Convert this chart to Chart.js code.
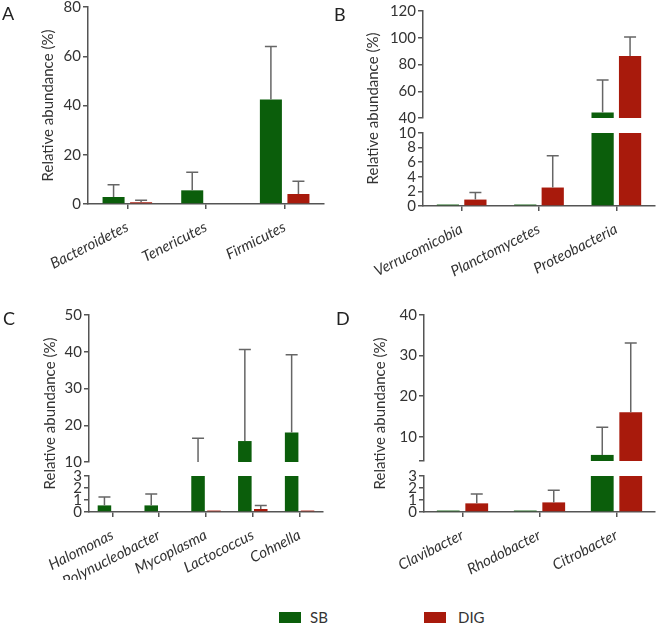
<!DOCTYPE html>
<html>
<head>
<meta charset="utf-8">
<script src="https://cdn.jsdelivr.net/npm/chart.js@4.4.0/dist/chart.umd.min.js"></script>
<style>
  body { margin: 0; background: #fff; font-family: Lato, sans-serif; }
  #wrap { position: relative; width: 659px; height: 625px; overflow: hidden; }
  canvas { position: absolute; }
  .letter { position: absolute; font-size: 18px; line-height: 18px; color: #222; }
  .key { position: absolute; width: 22px; height: 11px; }
  .keytext { position: absolute; font-size: 15px; line-height: 15px; color: #333; }
</style>
</head>
<body>
<div id="wrap">
  <canvas id="chartA" width="330" height="280" style="left:0;top:0"></canvas>
  <canvas id="chartB" width="329" height="280" style="left:330px;top:0"></canvas>
  <canvas id="chartC" width="330" height="300" style="left:0;top:280px"></canvas>
  <canvas id="chartD" width="329" height="300" style="left:330px;top:280px"></canvas>
  <div class="letter" style="left:2px;top:4px">A</div>
  <div class="letter" style="left:334px;top:5px">B</div>
  <div class="letter" style="left:3px;top:309px">C</div>
  <div class="letter" style="left:336px;top:309px">D</div>
  <div class="key" style="left:279px;top:612px;background:#0b5e0b"></div>
  <div class="keytext" style="left:310px;top:610px">SB</div>
  <div class="key" style="left:424px;top:612px;background:#a81a0c"></div>
  <div class="keytext" style="left:458px;top:610px">DIG</div>
</div>
<script>
// panel A - phylum
const catsA = ["Bacteroidetes", "Tenericutes", "Firmicutes"];
const sbA = [2.85, 5.55, 42.4];
const sbErrA = [5.0, 7.35, 21.6];
const digA = [0.7, 0, 4.05];
const digErrA = [0.8, 0, 5.15];
const ticksA = [0, 20, 40, 60, 80];

// panel B - phylum, broken axis
const catsB = ["Verrucomicobia", "Planctomycetes", "Proteobacteria"];
const sbB = [0.2, 0.2, 44.2];
const sbErrB = [0, 0, 24.3];
const digB = [0.88, 2.53, 86.4];
const digErrB = [0.96, 4.34, 14.2];
const ticksBTop = [40, 60, 80, 100, 120];
const ticksBBottom = [0, 2, 4, 6, 8, 10];

// panel C - genus, broken axis
const catsC = ["Halomonas", "Polynucleobacter", "Mycoplasma", "Lactococcus", "Cohnella"];
const sbC = [0.55, 0.55, 6, 15.7, 18.0];
const sbErrC = [0.69, 0.94, 10.45, 24.9, 21.2];
const digC = [0, 0, 0.12, 0.25, 0.12];
const digErrC = [0, 0, 0, 0.3, 0];
const ticksCTop = [10, 20, 30, 40, 50];
const ticksCBottom = [0, 1, 2, 3];

// panel D - genus, broken axis
const catsD = ["Clavibacter", "Rhodobacter", "Citrobacter"];
const sbD = [0.12, 0.12, 5.5];
const sbErrD = [0, 0, 6.8];
const digD = [0.72, 0.8, 16.0];
const digErrD = [0.79, 1.02, 17.1];
const ticksDTop = [4, 10, 20, 30, 40];
const labelsDTop = ["", "10", "20", "30", "40"];
const ticksDBottom = [0, 1, 2, 3];

const green = "#0b5e0b";
const red = "#a81a0c";
const axisColor = "#555";
const textColor = "#333";
const family = "Lato";

// clip each dataset to its own y segment and draw the upper error bars
const segmentPlugin = {
  id: "segmentPlugin",
  beforeDatasetDraw(chart, args) {
    const y = chart.scales[args.meta.yAxisID];
    const ctx = chart.ctx;
    ctx.save();
    ctx.beginPath();
    ctx.rect(chart.chartArea.left, y.top, chart.chartArea.width, y.height);
    ctx.clip();
  },
  afterDatasetDraw(chart, args) {
    const ctx = chart.ctx;
    const meta = args.meta;
    const ds = chart.data.datasets[args.index];
    const y = chart.scales[meta.yAxisID];
    ctx.strokeStyle = "#666";
    ctx.lineWidth = 1.5;
    meta.data.forEach((bar, i) => {
      const err = ds.errors[i];
      if (!err) return;
      const y0 = y.getPixelForValue(ds.data[i]);
      const y1 = y.getPixelForValue(ds.data[i] + err);
      ctx.beginPath();
      ctx.moveTo(bar.x, y0);
      ctx.lineTo(bar.x, y1);
      ctx.moveTo(bar.x - 6, y1);
      ctx.lineTo(bar.x + 6, y1);
      ctx.stroke();
    });
    ctx.restore();
  }
};

const titlePlugin = {
  id: "titlePlugin",
  afterDraw(chart, args, opts) {
    const {ctx, chartArea} = chart;
    ctx.save();
    ctx.translate(opts.x, (chartArea.top + chartArea.bottom) / 2);
    ctx.rotate(-Math.PI / 2);
    ctx.font = "15px " + family;
    ctx.fillStyle = textColor;
    ctx.textAlign = "center";
    ctx.textBaseline = "middle";
    ctx.fillText("Relative abundance (%)", 0, 0);
    ctx.restore();
  }
};

function makePanel(id, cats, sb, sbErr, dig, digErr, segs, area, titleX, catPct, barPct) {
  const canvas = document.getElementById(id);
  const yWidth = 40;
  const scales = {
    x: {
      type: "category",
      position: "bottom",
      grid: { display: true, drawOnChartArea: false, offset: false, tickLength: 5, color: axisColor, lineWidth: 1.5 },
      border: { color: axisColor, width: 1.5 },
      ticks: { color: textColor, font: { family: family, size: 15, style: "italic" }, minRotation: 27, maxRotation: 27, autoSkip: false, padding: 9 },
      afterFit: s => { s.height = canvas.height - area.bottom; s.paddingLeft = 0; s.paddingRight = 0; }
    }
  };
  const datasets = [];
  segs.forEach((seg, k) => {
    const yid = "y" + k;
    scales[yid] = {
      type: "linear",
      position: "left",
      stack: "v",
      stackWeight: seg.weight,
      weight: segs.length - k,
      stacked: false,
      display: !!seg.ticks,
      min: seg.ticks ? seg.ticks[0] : 0,
      max: seg.ticks ? seg.ticks[seg.ticks.length - 1] : 1,
      afterBuildTicks: s => { if (seg.ticks) s.ticks = seg.ticks.map(v => ({ value: v })); },
      afterFit: s => { s.width = yWidth; s.paddingTop = 0; s.paddingBottom = 0; },
      grid: { drawOnChartArea: false, tickLength: 5, color: axisColor, lineWidth: 1.5 },
      border: { color: axisColor, width: 1.5 },
      ticks: {
        autoSkip: false, padding: 2, color: textColor, font: { family: family, size: 15 },
        callback: (v, i) => seg.labels ? seg.labels[i] : v
      }
    };
    if (!seg.ticks) return;
    datasets.push({ label: "SB", data: sb, errors: sbErr, backgroundColor: green, yAxisID: yid, stack: "SB",
      categoryPercentage: catPct, barPercentage: barPct });
    datasets.push({ label: "DIG", data: dig, errors: digErr, backgroundColor: red, yAxisID: yid, stack: "DIG",
      categoryPercentage: catPct, barPercentage: barPct });
  });
  return new Chart(canvas, {
    type: "bar",
    data: { labels: cats, datasets: datasets },
    options: {
      responsive: false,
      animation: false,
      layout: { padding: { left: area.left - yWidth, top: area.top, right: canvas.width - area.right, bottom: 0 } },
      scales: scales,
      plugins: { legend: { display: false }, tooltip: { enabled: false }, titlePlugin: { x: titleX } }
    },
    plugins: [segmentPlugin, titlePlugin]
  });
}

makePanel("chartA", catsA, sbA, sbErrA, digA, digErrA,
  [{ ticks: ticksA, weight: 1 }],
  { left: 88, top: 7, right: 324, bottom: 204 }, 48, 0.7, 0.8);

makePanel("chartB", catsB, sbB, sbErrB, digB, digErrB,
  [{ ticks: ticksBTop, weight: 107 }, { weight: 15 }, { ticks: ticksBBottom, weight: 73 }],
  { left: 93, top: 11, right: 325, bottom: 206 }, 43, 0.71, 0.81);

makePanel("chartC", catsC, sbC, sbErrC, digC, digErrC,
  [{ ticks: ticksCTop, weight: 147 }, { weight: 14 }, { ticks: ticksCBottom, weight: 36 }],
  { left: 89, top: 35, right: 323, bottom: 232 }, 50, 0.68, 0.85);

makePanel("chartD", catsD, sbD, sbErrD, digD, digErrD,
  [{ ticks: ticksDTop, labels: labelsDTop, weight: 146 }, { weight: 15 }, { ticks: ticksDBottom, weight: 36 }],
  { left: 94, top: 35, right: 325, bottom: 232 }, 50, 0.74, 0.8);
</script>
</body>
</html>
